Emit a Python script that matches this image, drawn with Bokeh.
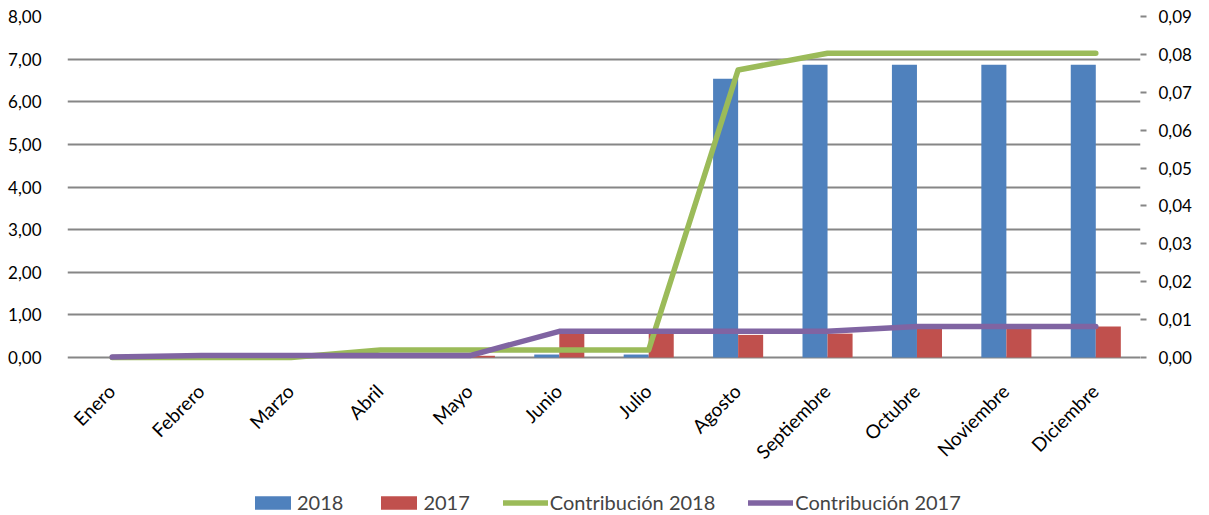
import math
from bokeh.plotting import figure
from bokeh.models import (ColumnDataSource, LinearAxis, Range1d, FixedTicker,
                          CustomJSTickFormatter, Legend, LegendItem)
from bokeh.transform import dodge
from bokeh.core.properties import value
from bokeh.embed import file_html
from bokeh.resources import INLINE

months = ["Enero", "Febrero", "Marzo", "Abril", "Mayo", "Junio", "Julio",
          "Agosto", "Septiembre", "Octubre", "Noviembre", "Diciembre"]
v2018 = [0, 0, 0, 0, 0, 0.07, 0.07, 6.54, 6.87, 6.87, 6.87, 6.87]
v2017 = [0, 0, 0, 0, 0.04, 0.56, 0.56, 0.53, 0.56, 0.68, 0.68, 0.73]
contrib2018 = [0.0, 0.0, 0.0, 0.002, 0.002, 0.002, 0.002, 0.0759, 0.0803, 0.0803, 0.0803, 0.0803]
contrib2017 = [0.0001, 0.0005, 0.0005, 0.0005, 0.0005, 0.0069, 0.0069, 0.0069, 0.0069, 0.0082, 0.0082, 0.0082]
left_ticks = [0, 1, 2, 3, 4, 5, 6, 7, 8]
right_ticks = [0, 0.01, 0.02, 0.03, 0.04, 0.05, 0.06, 0.07, 0.08, 0.09]
LEFT_MAX, RIGHT_MAX = 8, 0.09

FONT = "Lato"
GRAY = "#868686"

# geometry: value area is 341 px tall; the frame extends below it to hold
# the rotated category labels and the legend
AREA_H, FRAME_H = 341, 499
left_min = LEFT_MAX - FRAME_H * LEFT_MAX / AREA_H
right_min = RIGHT_MAX - FRAME_H * RIGHT_MAX / AREA_H

src = ColumnDataSource(dict(x=list(range(len(months))), m=months,
                            zero=[0] * len(months),
                            v2018=v2018, v2017=v2017,
                            c2018=contrib2018, c2017=contrib2017))

p = figure(frame_width=1073, frame_height=FRAME_H, output_backend="svg", toolbar_location=None,
           x_range=Range1d(-0.5, len(months) - 0.5), y_range=Range1d(left_min, LEFT_MAX),
           min_border_left=67, min_border_right=61, min_border_top=16,
           min_border_bottom=0)
p.outline_line_color = None
p.background_fill_color = "white"
p.border_fill_color = "white"
p.extra_y_ranges = {"right": Range1d(right_min, RIGHT_MAX)}

r18 = p.vbar(x=dodge("x", -0.14, range=p.x_range), top="v2018", width=0.28,
             source=src, fill_color="#4F81BD", line_color=None)
r17 = p.vbar(x=dodge("x", 0.14, range=p.x_range), top="v2017", width=0.28,
             source=src, fill_color="#C0504D", line_color=None)
l18 = p.line("x", "c2018", source=src, y_range_name="right", line_color="#9BBB59",
             line_width=5.5, line_cap="round", line_join="round")
l17 = p.line("x", "c2017", source=src, y_range_name="right", line_color="#8064A2",
             line_width=5.5, line_cap="round", line_join="round")

# category labels, rotated 45 degrees
p.text(x="x", y="zero", text="m", source=src, angle=math.pi / 4,
       text_align="right", text_baseline="middle", x_offset=-1, y_offset=30,
       text_font=value(FONT), text_font_size="19px", text_color="black")

# left axis
yl = p.yaxis[0]
yl.ticker = FixedTicker(ticks=left_ticks)
yl.formatter = CustomJSTickFormatter(code="return tick.toFixed(2).replace('.', ',');")
yl.axis_line_color = None
yl.major_tick_line_color = None
yl.minor_tick_line_color = None
yl.major_label_standoff = 20
yl.major_label_text_font = FONT
yl.major_label_text_font_size = "17px"
yl.major_label_text_color = "black"

# right axis
yr = LinearAxis(y_range_name="right", ticker=FixedTicker(ticks=right_ticks),
                formatter=CustomJSTickFormatter(code="return tick.toFixed(2).replace('.', ',');"))
yr.axis_line_color = None
yr.major_tick_line_color = GRAY
yr.major_tick_line_width = 2
yr.major_tick_in = 0
yr.major_tick_out = 6
yr.minor_tick_line_color = None
yr.major_label_standoff = 12
yr.major_label_text_font = FONT
yr.major_label_text_font_size = "17px"
yr.major_label_text_color = "black"
p.add_layout(yr, "right")

p.xaxis.visible = False
p.xgrid.grid_line_color = None
p.ygrid.ticker = FixedTicker(ticks=left_ticks)
p.ygrid.grid_line_color = GRAY
p.ygrid.grid_line_width = 2

legend = Legend(items=[LegendItem(label="2018", renderers=[r18]),
                       LegendItem(label="2017", renderers=[r17]),
                       LegendItem(label="Contribución 2018", renderers=[l18]),
                       LegendItem(label="Contribución 2017", renderers=[l17])],
                orientation="horizontal", location=(183, 1),
                label_text_font=FONT, label_text_font_size="20px",
                glyph_width=45, glyph_height=17, label_standoff=2, spacing=33,
                border_line_color=None, background_fill_alpha=0,
                padding=0, margin=0)
p.add_layout(legend, "center")

open("out.html", "w").write(file_html(p, INLINE))
